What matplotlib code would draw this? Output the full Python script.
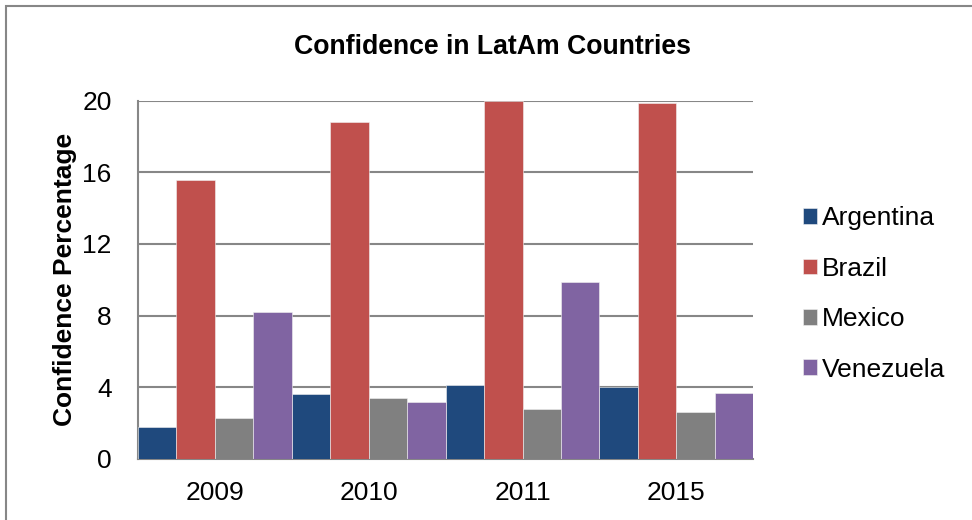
import matplotlib
matplotlib.use("Agg")
import matplotlib.pyplot as plt
from matplotlib.patches import Rectangle
import numpy as np

plt.rcParams['font.family'] = ['Liberation Sans', 'DejaVu Sans']

years = ['2009', '2010', '2011', '2015']
countries = ['Argentina', 'Brazil', 'Mexico', 'Venezuela']
argentina = [1.78, 3.59, 4.09, 3.98]
brazil = [15.6, 18.8, 20.0, 19.86]
mexico = [2.28, 3.40, 2.78, 2.58]
venezuela = [8.18, 3.17, 9.86, 3.68]
colors = ['#1F497D', '#C0504D', '#808080', '#8064A2']

series = [argentina, brazil, mexico, venezuela]

fig = plt.figure(figsize=(9.72, 5.2), dpi=100)
ax = fig.add_axes([0.142, 0.118, 0.633, 0.688])

x = np.arange(len(years))
width = 0.25
for i, (name, vals, col) in enumerate(zip(countries, series, colors)):
    ax.bar(x - 0.375 + i * width, vals, width, color=col, label=name,
           edgecolor='#f2f2f2', linewidth=0.4, zorder=3)

ax.set_xlim(-0.5, len(years) - 0.5)
ax.set_ylim(0, 20)
ax.set_yticks([0, 4, 8, 12, 16, 20])
ax.set_xticks(x)
ax.set_xticklabels(years)
ax.tick_params(axis='both', length=0, labelsize=19)
ax.tick_params(axis='y', pad=19)
ax.tick_params(axis='x', pad=16)
ax.yaxis.grid(True, color='#878787', linewidth=1.5, zorder=0)
ax.set_axisbelow(True)
for s in ['top', 'right']:
    ax.spines[s].set_visible(False)
for s in ['left', 'bottom']:
    ax.spines[s].set_color('#878787')
    ax.spines[s].set_linewidth(1.5)

ax.set_ylabel('Confidence Percentage', fontsize=19, fontweight='bold', labelpad=4)
fig.text(0.507, 0.909, 'Confidence in LatAm Countries', ha='center', va='center',
         fontsize=19.2, fontweight='bold')

fig.legend(loc='center left', bbox_to_anchor=(0.826, 0.4346), frameon=False,
           fontsize=19, handlelength=0.53, handleheight=0.53, handletextpad=0.2,
           labelspacing=1.0, borderpad=0, borderaxespad=0)

fig.patches.append(Rectangle((6 / 972, -0.1), 1.2, 1 - 6.5 / 520 + 0.1,
                             transform=fig.transFigure, fill=False,
                             edgecolor='#878787', linewidth=1.5))

fig.savefig('out.png', dpi=100)
